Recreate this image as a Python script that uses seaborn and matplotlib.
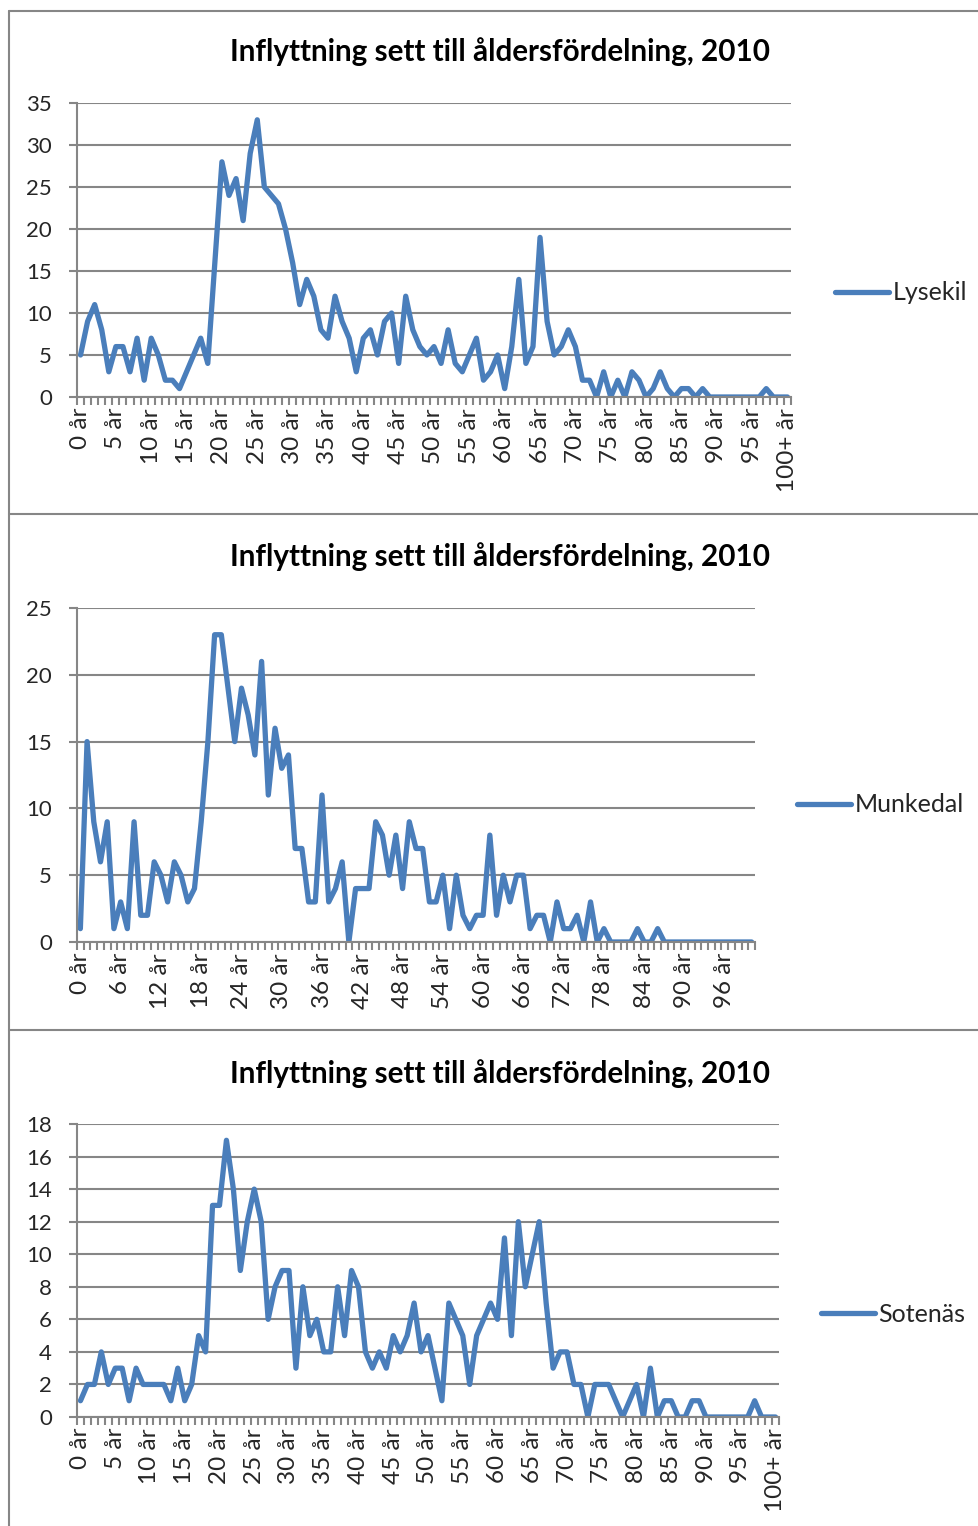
import numpy as np
import pandas as pd
import matplotlib
matplotlib.use("Agg")
import matplotlib.pyplot as plt
from matplotlib.lines import Line2D
import seaborn as sns

# Data (inflyttning per ålder, 2010)
title = "Inflyttning sett till åldersfördelning, 2010"
ages = list(range(101))

lysekil = [5, 9, 11, 8, 3, 6, 6, 3, 7, 2, 7, 5, 2, 2, 1, 3, 5, 7, 4, 16,
           28, 24, 26, 21, 29, 33, 25, 24, 23, 20, 16, 11, 14, 12, 8, 7, 12, 9, 7, 3,
           7, 8, 5, 9, 10, 4, 12, 8, 6, 5, 6, 4, 8, 4, 3, 5, 7, 2, 3, 5,
           1, 6, 14, 4, 6, 19, 9, 5, 6, 8, 6, 2, 2, 0, 3, 0, 2, 0, 3, 2,
           0, 1, 3, 1, 0, 1, 1, 0, 1, 0, 0, 0, 0, 0, 0, 0, 0, 1, 0, 0, 0]

munkedal = [1, 15, 9, 6, 9, 1, 3, 1, 9, 2, 2, 6, 5, 3, 6, 5, 3, 4, 9, 15,
            23, 23, 19, 15, 19, 17, 14, 21, 11, 16, 13, 14, 7, 7, 3, 3, 11, 3, 4, 6,
            0, 4, 4, 4, 9, 8, 5, 8, 4, 9, 7, 7, 3, 3, 5, 1, 5, 2, 1, 2,
            2, 8, 2, 5, 3, 5, 5, 1, 2, 2, 0, 3, 1, 1, 2, 0, 3, 0, 1, 0,
            0, 0, 0, 1, 0, 0, 1, 0, 0, 0, 0, 0, 0, 0, 0, 0, 0, 0, 0, 0, 0]

sotenas = [1, 2, 2, 4, 2, 3, 3, 1, 3, 2, 2, 2, 2, 1, 3, 1, 2, 5, 4, 13,
           13, 17, 14, 9, 12, 14, 12, 6, 8, 9, 9, 3, 8, 5, 6, 4, 4, 8, 5, 9,
           8, 4, 3, 4, 3, 5, 4, 5, 7, 4, 5, 3, 1, 7, 6, 5, 2, 5, 6, 7,
           6, 11, 5, 12, 8, 10, 12, 7, 3, 4, 4, 2, 2, 0, 2, 2, 2, 1, 0, 1,
           2, 0, 3, 0, 1, 1, 0, 0, 1, 1, 0, 0, 0, 0, 0, 0, 0, 1, 0, 0, 0]

labels_by5 = [0, 5, 10, 15, 20, 25, 30, 35, 40, 45, 50, 55, 60, 65, 70, 75, 80, 85, 90, 95, 100]
labels_by6 = [0, 6, 12, 18, 24, 30, 36, 42, 48, 54, 60, 66, 72, 78, 84, 90, 96]


def age_label(a):
    return "100+ år" if a == 100 else f"{a} år"


W, H = 979, 1526
LINE = "#4A7EBB"
GRAY = "#868686"

sns.set_theme(style="white")
plt.rcParams["font.family"] = ["Lato", "DejaVu Sans"]

fig = plt.figure(figsize=(W / 100, H / 100), dpi=100)

# name, values, ymax, ystep, label ages, plot box (px: left, top, right, bottom), legend (px x, y), title y
panels = [
    ("Lysekil", lysekil, 35, 5, labels_by5, (77, 103, 791, 397), (835, 293), 52),
    ("Munkedal", munkedal, 25, 5, labels_by6, (77, 608, 755, 942), (797, 805), 557),
    ("Sotenäs", sotenas, 18, 2, labels_by5, (77, 1124, 779, 1417), (821, 1314), 1074),
]

for name, values, ymax, ystep, lab_ages, box, leg, ty in panels:
    l, t, r, b = box
    ax = fig.add_axes([l / W, 1 - b / H, (r - l) / W, (b - t) / H])
    df = pd.DataFrame({"age": ages, "value": values})
    sns.lineplot(data=df, x="age", y="value", ax=ax, color=LINE, linewidth=3.8,
                 label=name, solid_capstyle="round", solid_joinstyle="round")

    ax.set_xlim(-0.5, len(ages) - 0.5)
    ax.set_ylim(0, ymax)
    ax.set_yticks(np.arange(0, ymax + 0.1, ystep))
    ax.set_xlabel("")
    ax.set_ylabel("")

    # tick marks between categories, labels centred on categories
    ax.set_xticks(np.arange(-0.5, len(ages), 1))
    ax.set_xticklabels([])
    ax.set_xticks(lab_ages, [age_label(a) for a in lab_ages], minor=True)
    ax.tick_params(axis="x", which="major", length=6, width=1.5, color=GRAY, direction="out", bottom=True)
    ax.tick_params(axis="x", which="minor", length=0, pad=8, labelsize=17.5, labelrotation=90, bottom=True)
    ax.tick_params(axis="y", length=6, width=1.5, color=GRAY, direction="out", pad=12, labelsize=16, left=True)

    ax.yaxis.grid(True, color=GRAY, linewidth=1.5)
    ax.xaxis.grid(False)
    ax.set_axisbelow(True)
    for side in ["top", "right"]:
        ax.spines[side].set_visible(False)
    for side in ["left", "bottom"]:
        ax.spines[side].set_color(GRAY)
        ax.spines[side].set_linewidth(1.5)

    ax.legend(loc="center left", bbox_to_anchor=(leg[0] / W, 1 - leg[1] / H),
              bbox_transform=fig.transFigure, frameon=False, fontsize=18,
              handlelength=2.15, handletextpad=0.15, borderpad=0, borderaxespad=0)

    fig.text(500 / W, 1 - ty / H, title, ha="center", va="center",
             fontsize=21.3, fontweight="bold", color="black")

# chart area frames
for y in [11, 514, 1030]:
    fig.add_artist(Line2D([9 / W, 1], [1 - y / H, 1 - y / H], color=GRAY, linewidth=1.5))
fig.add_artist(Line2D([9 / W, 9 / W], [1 - 11 / H, 0], color=GRAY, linewidth=1.5))

fig.savefig("out.png", dpi=100)
